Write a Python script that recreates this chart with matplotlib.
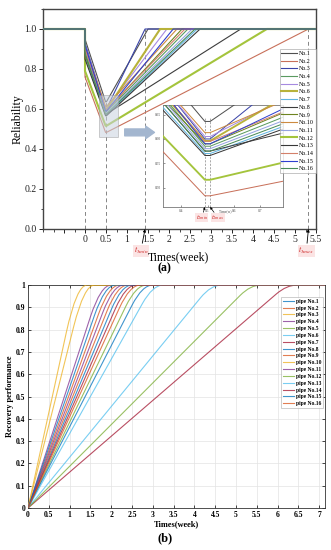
import matplotlib
matplotlib.use('Agg')
import matplotlib.pyplot as plt
from matplotlib.path import Path
from matplotlib.patches import PathPatch, Rectangle, FancyArrowPatch
from matplotlib.lines import Line2D
from matplotlib.ticker import MultipleLocator, FormatStrFormatter

plt.rcParams['font.family'] = ['Liberation Serif', 'DejaVu Serif']
plt.rcParams['mathtext.fontset'] = 'stix'

# ---------------- data: panel (a) ----------------
labels_a = [f'No.{i}' for i in range(1, 17)]
start_rel = [0.95, 0.76, 0.93, 0.90, 0.92, 0.89, 0.86, 0.88, 0.87, 0.91, 0.89, 0.79, 0.85, 0.90, 0.92, 0.88]
min_rel = [0.636, 0.483, 0.600, 0.585, 0.605, 0.596, 0.570, 0.575, 0.590, 0.613, 0.580, 0.516, 0.566, 0.595, 0.590, 0.575]
full_time = [1.50, 5.32, 1.43, 2.45, 1.95, 1.79, 2.67, 3.71, 2.31, 2.19, 2.55, 4.33, 2.74, 2.38, 2.10, 2.62]
t_begin = -1.0
t_fail = 0.0
t2_min = 0.49
t2_max = 0.51
t_stop = 5.5
colors_a = ['#505050', '#c8705a', '#3a44a8', '#5a9a60', '#a68ae0', '#b8b23a', '#60b4e0', '#3c3c3c',
            '#6e8420', '#cc8a40', '#95a3e0', '#a4c43c', '#383838', '#d4806a', '#2f3fd0', '#4a8c58']
widths_a = [0.8, 0.8, 0.8, 0.8, 0.8, 1.5, 0.8, 0.8, 0.8, 0.8, 0.8, 1.5, 0.8, 0.8, 0.8, 0.8]
xticks_a = [-0.5, 0, 0.5, 1, 1.5, 2, 2.5, 3, 3.5, 4, 4.5, 5, 5.5]
xticklabels_a = ['', '0', '0.5', '1', '1.5', '2', '2.5', '3', '3.5', '4', '4.5', '5', '5.5']
zoom_box = [0.33, 0.79, 0.46, 0.67]   # t0, t1, r0, r1

# ---------------- data: panel (b) ----------------
labels_b = [f'pipe No.{i}' for i in range(1, 17)]
linear_end = [2.25, 1.95, 1.17, 1.75, 2.60, 4.40, 6.22, 2.75, 2.15, 1.35, 2.05, 5.35, 3.00, 2.35, 1.85, 2.45]
bend_half = 0.25
matlab = ['#0072BD', '#D95319', '#EDB120', '#7E2F8E', '#77AC30', '#4DBEEE', '#A2142F']
colors_b = [matlab[i % 7] for i in range(16)]
xticks_b = [0, 0.5, 1, 1.5, 2, 2.5, 3, 3.5, 4, 4.5, 5, 5.5, 6, 6.5, 7]
xticklabels_b = ['0', '0.5', '1', '1.5', '2', '2.5', '3', '3.5', '4', '4.5', '5', '5.5', '6', '6.5', '7']
yticks_b = [0, 0.1, 0.2, 0.3, 0.4, 0.5, 0.6, 0.7, 0.8, 0.9, 1]
yticklabels_b = ['0', '0.1', '0.2', '0.3', '0.4', '0.5', '0.6', '0.7', '0.8', '0.9', '1']

W, H = 331, 550
fig = plt.figure(figsize=(W / 100, H / 100), dpi=100)

# ================= panel (a) =================
ax = fig.add_axes([43 / W, 1 - 229 / H, 273 / W, 220 / H])
ax.set_xlim(t_begin, t_stop)
ax.set_ylim(0, 1.1)


def draw_lines(a, lw_scale=1.0):
    for i in range(16):
        xs = [t_begin, t_fail, t_fail, t2_min, t2_max, full_time[i], t_stop]
        ys = [1, 1, start_rel[i], min_rel[i], min_rel[i], 1, 1]
        a.plot(xs, ys, color=colors_a[i], lw=widths_a[i] * lw_scale, label=labels_a[i], zorder=3)


draw_lines(ax)

gcol = '#858585'
t3min = min(full_time)
t3max = max(full_time)
for tx, top in [(t_fail, 1.0), ((t2_min + t2_max) / 2, 0.64), (t3min, 1.0), (t3max, 1.0)]:
    ax.plot([tx, tx], [0, top], color=gcol, lw=0.7, ls=(0, (4, 3)), zorder=2)

ax.add_patch(Rectangle((zoom_box[0], zoom_box[2]), zoom_box[1] - zoom_box[0], zoom_box[3] - zoom_box[2],
                       facecolor='#c9d3df', edgecolor='#9a9a9a', lw=0.6, alpha=0.55, zorder=4))
ax.add_patch(FancyArrowPatch((0.88, 0.483), (1.72, 0.483),
                             arrowstyle='simple,head_length=0.7,head_width=1.0,tail_width=0.55',
                             mutation_scale=9, facecolor='#a3b6cf', edgecolor='#a3b6cf', zorder=4))

ax.set_xticks(xticks_a)
ax.set_xticklabels(xticklabels_a)
ax.xaxis.set_minor_locator(MultipleLocator(0.25))
ax.yaxis.set_major_locator(MultipleLocator(0.2))
ax.yaxis.set_minor_locator(MultipleLocator(0.1))
ax.yaxis.set_major_formatter(FormatStrFormatter('%.1f'))
ax.tick_params(which='major', direction='out', length=3, width=0.7, labelsize=7, pad=1.5, colors='#222222')
ax.tick_params(which='minor', direction='out', length=1.8, width=0.5)
for s in ax.spines.values():
    s.set_linewidth(1.0)
    s.set_color('#444444')

leg = ax.legend(loc='upper right', bbox_to_anchor=(1.0, 0.818), fontsize=4.3, handlelength=2.6,
                handletextpad=0.4, labelspacing=0.42, borderpad=0.3, borderaxespad=0.0,
                frameon=True, fancybox=False, edgecolor='#999999')
leg.get_frame().set_linewidth(0.5)
leg.set_zorder(10)

red = '#cc2020'
pink = dict(boxstyle='square,pad=0.05', fc='#fbe4e4', ec='none')
ax.annotate(r'$t_{3min}$', xy=(t3min, 0.0), xytext=(t3min - 0.1, -0.108), fontsize=5.5, color=red,
            ha='center', va='center', annotation_clip=False, bbox=pink,
            arrowprops=dict(arrowstyle='-|>', color='k', lw=0.6, mutation_scale=4, shrinkA=1, shrinkB=0))
ax.annotate(r'$t_{3max}$', xy=(t3max, 0.0), xytext=(t3max - 0.05, -0.108), fontsize=5.5, color=red,
            ha='center', va='center', annotation_clip=False, bbox=pink,
            arrowprops=dict(arrowstyle='-|>', color='k', lw=0.6, mutation_scale=4, shrinkA=1, shrinkB=0))

# inset
ins = ax.inset_axes([0.44, 0.10, 0.44, 0.464])
draw_lines(ins, lw_scale=0.9)
ins.set_xlim(zoom_box[0], zoom_box[1])
ins.set_ylim(zoom_box[2], zoom_box[3])
for tx in (t2_min, t2_max):
    ins.plot([tx, tx], [zoom_box[2], 0.645], color=gcol, lw=0.5, ls=(0, (3, 2)), zorder=2)
ins.set_xticks([0.4, 0.5, 0.6, 0.7])
ins.set_yticks([0.50, 0.55, 0.60, 0.65])
ins.xaxis.set_major_formatter(FormatStrFormatter('%.1f'))
ins.yaxis.set_major_formatter(FormatStrFormatter('%.2f'))
ins.tick_params(direction='in', length=1.5, width=0.4, labelsize=2.6, pad=1.2, colors='#444444')
ins.set_facecolor('white')
for s in ins.spines.values():
    s.set_linewidth(0.6)
    s.set_color('#777777')
ins.annotate(r'$t_{2min}$', xy=(t2_min, zoom_box[2]), xytext=(t2_min - 0.012, 0.438), fontsize=4.5,
             color=red, ha='center', va='center', annotation_clip=False, bbox=pink,
             arrowprops=dict(arrowstyle='-|>', color='k', lw=0.5, mutation_scale=3, shrinkA=0.5, shrinkB=0))
ins.annotate(r'$t_{2max}$', xy=(t2_max, zoom_box[2]), xytext=(t2_max + 0.03, 0.438), fontsize=4.5,
             color=red, ha='center', va='center', annotation_clip=False, bbox=pink,
             arrowprops=dict(arrowstyle='-|>', color='k', lw=0.5, mutation_scale=3, shrinkA=0.5, shrinkB=0))
ins.text(0.545, 0.452, 'Time(w)', fontsize=2.6, color='#444444', ha='left', va='center')

fig.text(178 / W, 1 - 257 / H, 'Times(week)', fontsize=8.5, ha='center', va='center')
fig.text(18 / W, 1 - 119 / H, 'Reliability', fontsize=8.5, rotation=90, ha='center', va='center')
fig.text(164 / W, 1 - 268 / H, '(a)', fontsize=8.5, fontweight='bold', ha='center', va='center')

# ================= panel (b) =================
bx = fig.add_axes([28 / W, 1 - 508 / H, 297 / W, 223 / H])
bx.set_xlim(0, 7.14)
bx.set_ylim(0, 1)
handles = []
for i in range(16):
    tl = linear_end[i]
    verts = [(0, 0), (tl - bend_half, (tl - bend_half) / tl), (tl, 1.0), (tl + bend_half, 1.0), (7.14, 1.0)]
    codes = [Path.MOVETO, Path.LINETO, Path.CURVE3, Path.CURVE3, Path.LINETO]
    bx.add_patch(PathPatch(Path(verts, codes), fill=False, edgecolor=colors_b[i], lw=0.8, alpha=0.75, zorder=3))
    handles.append(Line2D([], [], color=colors_b[i], lw=0.8, alpha=0.75))

bx.set_xticks(xticks_b)
bx.set_xticklabels(xticklabels_b)
bx.set_yticks(yticks_b)
bx.set_yticklabels(yticklabels_b)
bx.grid(True, color='#e3e3e3', lw=0.5, zorder=0)
bx.set_axisbelow(True)
bx.tick_params(direction='in', length=2, width=0.5, labelsize=5.5, pad=2, top=True, right=True)
for lab in bx.get_xticklabels() + bx.get_yticklabels():
    lab.set_fontweight('bold')
for s in bx.spines.values():
    s.set_linewidth(0.6)
    s.set_color('#333333')
legb = bx.legend(handles, labels_b, loc='upper right', bbox_to_anchor=(0.993, 0.946),
                 prop={'weight': 'bold', 'size': 4}, handlelength=1.9, handletextpad=0.4,
                 labelspacing=0.33, borderpad=0.3, borderaxespad=0.0, frameon=True, fancybox=False,
                 edgecolor='#aaaaaa')
legb.get_frame().set_linewidth(0.5)

fig.text(176 / W, 1 - 524 / H, 'Times(week)', fontsize=6, fontweight='bold', ha='center', va='center')
fig.text(10 / W, 1 - 396 / H, 'Recovery performance', fontsize=6, fontweight='bold', rotation=90,
         ha='center', va='center')
fig.text(165 / W, 1 - 538 / H, '(b)', fontsize=9, fontweight='bold', ha='center', va='center')

fig.savefig('out.png', dpi=100)
